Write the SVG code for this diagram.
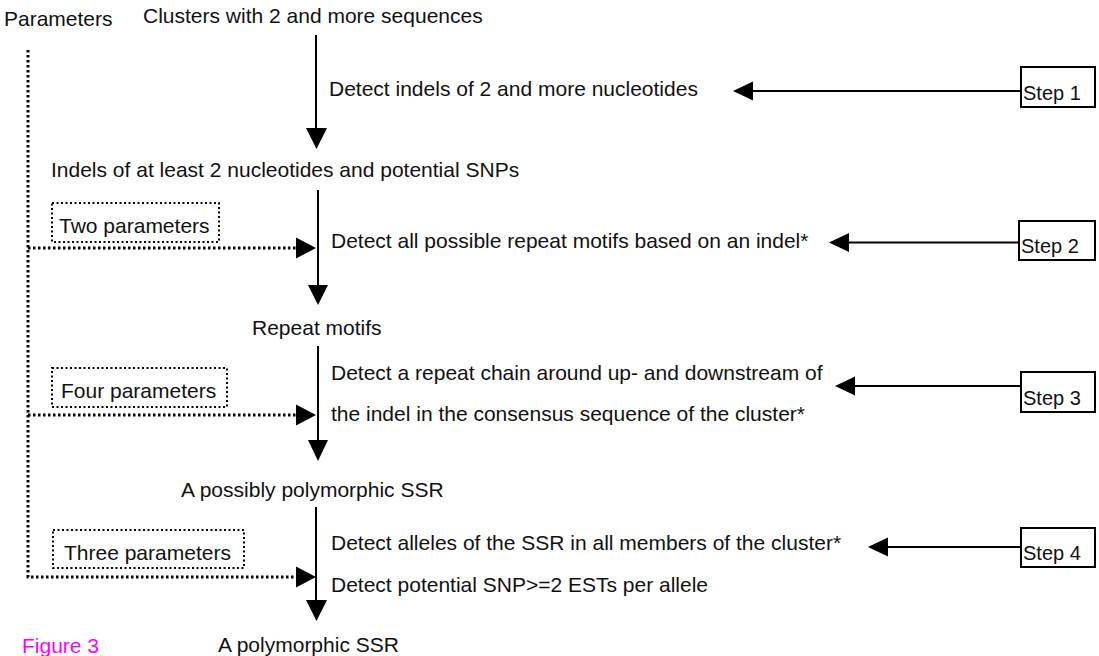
<svg xmlns="http://www.w3.org/2000/svg" width="1099" height="656" viewBox="0 0 1099 656">
<defs>
<style>
text{font-family:"Liberation Sans",Arial,sans-serif;font-size:21px;fill:#111;}
.step{font-size:20px;}
.fig{fill:#ff00ff;}
.solid{stroke:#000;stroke-width:2;fill:none;}
.dot{stroke:#000;stroke-width:3;stroke-dasharray:2.5 2.5;fill:none;}
.pbox{stroke:#000;stroke-width:2;stroke-dasharray:2 2.5;fill:none;}
.sbox{stroke:#000;stroke-width:2;fill:#fff;}
.head{fill:#000;}
</style>
</defs>
<rect width="1099" height="656" fill="#fff"/>

<g id="connectors">
<!-- main vertical arrows -->
<line class="solid" x1="316" y1="35" x2="316" y2="130"/>
<polygon class="head" points="306,128 327,128 316.5,149"/>
<line class="solid" x1="318" y1="190" x2="318" y2="287"/>
<polygon class="head" points="308,285 328,285 318,305"/>
<line class="solid" x1="318" y1="346" x2="318" y2="442"/>
<polygon class="head" points="308,440 328,440 318,461"/>
<line class="solid" x1="316" y1="507" x2="316" y2="602"/>
<polygon class="head" points="306,600 327,600 316.5,621"/>
<!-- step arrows -->
<line class="solid" x1="1021" y1="91" x2="751" y2="91"/>
<polygon class="head" points="733,91 753,81.5 753,100.5"/>
<line class="solid" x1="1019" y1="242.5" x2="847" y2="242.5"/>
<polygon class="head" points="829,242.5 849,233 849,252"/>
<line class="solid" x1="1021" y1="386" x2="853" y2="386"/>
<polygon class="head" points="835,386 855,376.5 855,395.5"/>
<line class="solid" x1="1021" y1="547" x2="886" y2="547"/>
<polygon class="head" points="868,547 888,537.5 888,556.5"/>
<!-- parameter dotted lines -->
<polyline class="dot" points="28,50 28,577 298,577"/>
<line class="dot" x1="28" y1="248" x2="298" y2="248"/>
<line class="dot" x1="28" y1="415" x2="298" y2="415"/>
<polygon class="head" points="316,248 296,237.5 296,258.5"/>
<polygon class="head" points="316,415 296,404.5 296,425.5"/>
<polygon class="head" points="316,577 296,566.5 296,587.5"/>
</g>

<g id="parameters"><text x="4" y="26">Parameters</text></g>
<g id="clusters"><text x="143" y="23">Clusters with 2 and more sequences</text></g>
<g id="detect-indels"><text x="329" y="96">Detect indels of 2 and more nucleotides</text></g>
<g id="indels"><text x="51" y="177">Indels of at least 2 nucleotides and potential SNPs</text></g>
<g id="detect-motifs"><text x="331" y="248">Detect all possible repeat motifs based on an indel*</text></g>
<g id="repeat-motifs"><text x="252" y="335">Repeat motifs</text></g>
<g id="detect-chain">
<text x="331" y="380">Detect a repeat chain around up- and downstream of</text>
<text x="331" y="421">the indel in the consensus sequence of the cluster*</text>
</g>
<g id="possibly-ssr"><text x="181" y="497">A possibly polymorphic SSR</text></g>
<g id="detect-alleles">
<text x="331" y="550">Detect alleles of the SSR in all members of the cluster*</text>
<text x="331" y="592">Detect potential SNP&gt;=2 ESTs per allele</text>
</g>
<g id="polymorphic-ssr"><text x="218" y="652">A polymorphic SSR</text></g>
<g id="figure-label"><text class="fig" x="22" y="653">Figure 3</text></g>

<g id="two-parameters">
<rect class="pbox" x="52" y="203" width="167" height="39"/>
<text x="59" y="233">Two parameters</text>
</g>
<g id="four-parameters">
<rect class="pbox" x="52" y="368" width="175" height="39"/>
<text x="61" y="398">Four parameters</text>
</g>
<g id="three-parameters">
<rect class="pbox" x="53" y="530" width="191" height="38"/>
<text x="64" y="560">Three parameters</text>
</g>

<g id="step1"><rect class="sbox" x="1021" y="67" width="74" height="40"/><text class="step" x="1023" y="100">Step 1</text></g>
<g id="step2"><rect class="sbox" x="1019" y="221" width="76" height="39"/><text class="step" x="1021" y="253">Step 2</text></g>
<g id="step3"><rect class="sbox" x="1021" y="372" width="74" height="40"/><text class="step" x="1023" y="405">Step 3</text></g>
<g id="step4"><rect class="sbox" x="1021" y="528" width="74" height="39"/><text class="step" x="1023" y="560">Step 4</text></g>
</svg>
